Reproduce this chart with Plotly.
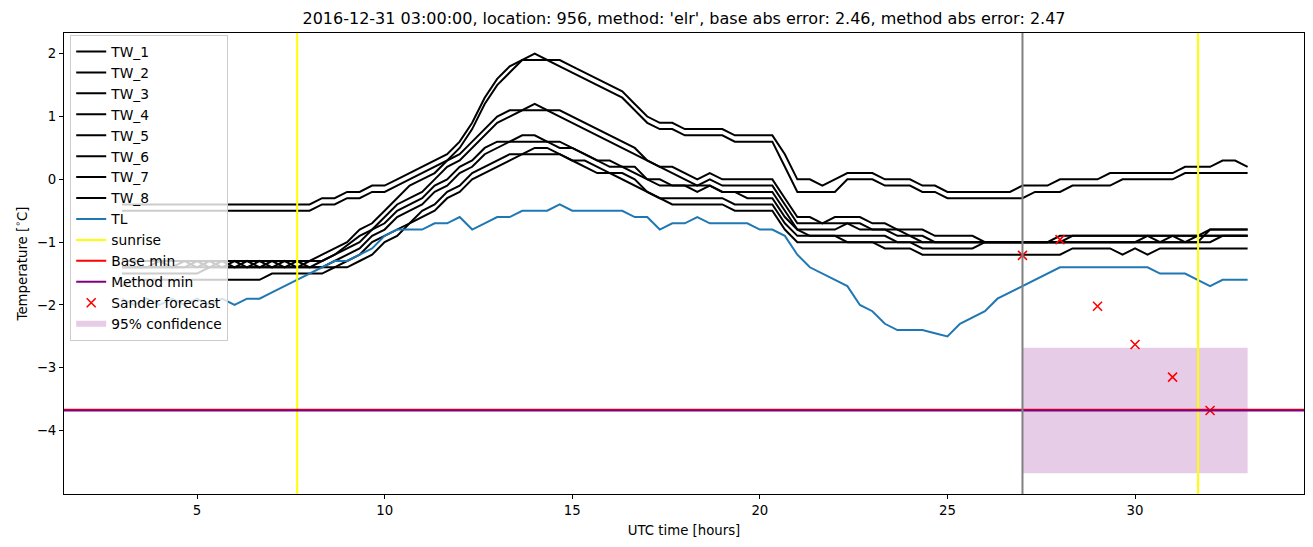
import numpy as np
import plotly.graph_objects as go

# time axis: 20-minute samples from 03:00 to 33:00 UTC
hours = np.round(3 + np.arange(91) / 3.0, 4)

TW_1 = [-0.4, -0.4, -0.4, -0.4, -0.4, -0.4, -0.4, -0.4, -0.4, -0.4, -0.4, -0.4, -0.4, -0.4, -0.4,
        -0.4, -0.3, -0.3, -0.2, -0.2, -0.1, -0.1, 0.0, 0.1, 0.2, 0.3, 0.4, 0.6, 0.9, 1.3,
        1.6, 1.8, 1.9, 2.0, 1.9, 1.9, 1.8, 1.7, 1.6, 1.5, 1.4, 1.2, 1.0, 0.9, 0.9,
        0.8, 0.8, 0.8, 0.8, 0.7, 0.7, 0.7, 0.7, 0.4, 0.0, 0.0, -0.1, 0.0, 0.1, 0.1,
        0.1, 0.0, 0.0, 0.0, -0.1, -0.1, -0.2, -0.2, -0.2, -0.2, -0.2, -0.2, -0.1, -0.1, -0.1,
        0.0, 0.0, 0.0, 0.0, 0.1, 0.1, 0.1, 0.1, 0.1, 0.1, 0.2, 0.2, 0.2, 0.3, 0.3, 0.2]
TW_2 = [-0.5, -0.5, -0.5, -0.5, -0.5, -0.5, -0.5, -0.5, -0.5, -0.5, -0.5, -0.5, -0.5, -0.5, -0.5,
        -0.5, -0.4, -0.4, -0.3, -0.3, -0.2, -0.2, -0.1, 0.0, 0.1, 0.2, 0.3, 0.5, 0.8, 1.2,
        1.5, 1.7, 1.9, 1.9, 1.9, 1.8, 1.7, 1.6, 1.5, 1.4, 1.3, 1.1, 0.9, 0.8, 0.8,
        0.7, 0.7, 0.7, 0.7, 0.6, 0.6, 0.6, 0.6, 0.2, -0.2, -0.2, -0.2, -0.2, 0.0, 0.0,
        0.0, -0.1, -0.1, -0.1, -0.2, -0.2, -0.3, -0.3, -0.3, -0.3, -0.3, -0.3, -0.3, -0.2, -0.2,
        -0.2, -0.1, -0.1, -0.1, -0.1, 0.0, 0.0, 0.0, 0.0, 0.0, 0.1, 0.1, 0.1, 0.1, 0.1, 0.1]
TW_3 = [-1.3, -1.3, -1.3, -1.3, -1.3, -1.3, -1.3, -1.3, -1.3, -1.3, -1.3, -1.3, -1.3, -1.3, -1.3,
        -1.3, -1.2, -1.1, -1.0, -0.8, -0.7, -0.5, -0.3, -0.1, 0.0, 0.1, 0.3, 0.4, 0.6, 0.8,
        1.0, 1.1, 1.1, 1.2, 1.1, 1.1, 1.0, 0.9, 0.8, 0.7, 0.6, 0.5, 0.3, 0.2, 0.2,
        0.1, 0.0, 0.1, 0.0, 0.0, 0.0, 0.0, 0.0, -0.3, -0.6, -0.6, -0.7, -0.6, -0.6, -0.6,
        -0.7, -0.7, -0.8, -0.8, -0.8, -0.9, -0.9, -0.9, -0.9, -1.0, -1.0, -1.0, -1.0, -1.0, -1.0,
        -0.9, -0.9, -0.9, -0.9, -0.9, -0.9, -0.9, -0.9, -0.9, -0.9, -0.9, -0.9, -0.8, -0.8, -0.8, -0.8]
TW_4 = [-1.4, -1.4, -1.4, -1.4, -1.4, -1.3, -1.4, -1.3, -1.4, -1.3, -1.4, -1.3, -1.4, -1.3, -1.4,
        -1.3, -1.3, -1.2, -1.05, -0.9, -0.8, -0.6, -0.4, -0.3, -0.2, 0.0, 0.2, 0.3, 0.5, 0.7,
        0.9, 1.0, 1.1, 1.1, 1.1, 1.0, 0.9, 0.8, 0.7, 0.6, 0.5, 0.4, 0.3, 0.2, 0.1,
        0.0, -0.1, 0.0, -0.1, -0.1, -0.1, -0.1, -0.1, -0.4, -0.7, -0.7, -0.7, -0.7, -0.7, -0.7,
        -0.8, -0.8, -0.8, -0.9, -0.9, -1.0, -1.0, -1.0, -1.0, -1.0, -1.0, -1.0, -1.0, -1.0, -1.0,
        -1.0, -0.9, -0.9, -0.9, -0.9, -0.9, -0.9, -0.9, -0.9, -0.9, -0.9, -0.9, -0.9, -0.9, -0.9, -0.9]
TW_5 = [-1.4, -1.4, -1.4, -1.4, -1.4, -1.4, -1.3, -1.4, -1.3, -1.4, -1.3, -1.4, -1.3, -1.4, -1.3,
        -1.4, -1.3, -1.2, -1.1, -1.0, -0.8, -0.7, -0.5, -0.4, -0.3, -0.1, 0.0, 0.2, 0.3, 0.5,
        0.6, 0.6, 0.7, 0.7, 0.6, 0.6, 0.5, 0.4, 0.3, 0.3, 0.2, 0.2, 0.0, 0.0, -0.1,
        -0.1, -0.1, -0.1, -0.2, -0.2, -0.2, -0.2, -0.2, -0.5, -0.8, -0.8, -0.8, -0.8, -0.7, -0.8,
        -0.8, -0.8, -0.9, -0.9, -1.0, -1.0, -1.0, -1.0, -1.0, -1.0, -1.0, -1.0, -1.0, -1.0, -1.0,
        -1.0, -1.0, -1.0, -1.0, -1.0, -1.0, -1.0, -1.0, -1.0, -1.0, -1.0, -1.0, -0.8, -0.8, -0.8, -0.8]
TW_6 = [-1.4, -1.4, -1.4, -1.3, -1.4, -1.4, -1.4, -1.4, -1.4, -1.4, -1.4, -1.4, -1.4, -1.4, -1.4,
        -1.4, -1.4, -1.3, -1.2, -1.1, -0.9, -0.8, -0.6, -0.5, -0.4, -0.2, -0.1, 0.1, 0.2, 0.4,
        0.5, 0.6, 0.6, 0.6, 0.6, 0.5, 0.5, 0.4, 0.3, 0.2, 0.2, 0.1, 0.0, -0.1, -0.1,
        -0.1, -0.2, -0.1, -0.2, -0.2, -0.3, -0.3, -0.3, -0.6, -0.8, -0.9, -0.9, -0.9, -0.9, -0.9,
        -0.9, -0.9, -1.0, -1.0, -1.0, -1.0, -1.0, -1.0, -1.0, -1.0, -1.0, -1.0, -1.0, -1.0, -1.0,
        -1.0, -1.0, -1.0, -1.0, -1.0, -1.0, -1.0, -0.9, -1.0, -0.9, -1.0, -0.9, -0.9, -0.9, -0.9, -0.9]
TW_7 = [-1.5, -1.5, -1.5, -1.5, -1.5, -1.5, -1.5, -1.4, -1.4, -1.4, -1.4, -1.4, -1.4, -1.4, -1.4,
        -1.4, -1.4, -1.4, -1.3, -1.2, -1.0, -0.9, -0.8, -0.7, -0.5, -0.4, -0.2, -0.1, 0.1, 0.2,
        0.3, 0.4, 0.4, 0.5, 0.5, 0.4, 0.3, 0.3, 0.2, 0.1, 0.1, 0.0, -0.2, -0.3, -0.3,
        -0.3, -0.3, -0.3, -0.3, -0.4, -0.4, -0.4, -0.4, -0.7, -0.9, -0.9, -0.9, -0.9, -1.0, -1.0,
        -1.0, -1.0, -1.0, -1.0, -1.1, -1.1, -1.1, -1.1, -1.1, -1.0, -1.0, -1.0, -1.0, -1.0, -1.0,
        -1.0, -1.0, -1.0, -1.0, -1.0, -1.0, -1.0, -1.0, -1.0, -1.0, -1.0, -1.0, -1.0, -0.9, -0.9, -0.9]
TW_8 = [-1.7, -1.6, -1.6, -1.6, -1.6, -1.6, -1.6, -1.6, -1.6, -1.6, -1.6, -1.6, -1.5, -1.5, -1.5,
        -1.5, -1.5, -1.4, -1.4, -1.3, -1.2, -1.0, -0.9, -0.7, -0.6, -0.5, -0.3, -0.2, 0.0, 0.1,
        0.2, 0.3, 0.4, 0.4, 0.4, 0.4, 0.3, 0.2, 0.1, 0.1, 0.0, -0.1, -0.2, -0.3, -0.4,
        -0.4, -0.4, -0.4, -0.4, -0.5, -0.5, -0.5, -0.5, -0.8, -1.0, -1.0, -1.0, -1.0, -1.0, -1.0,
        -1.0, -1.1, -1.1, -1.1, -1.2, -1.2, -1.2, -1.2, -1.2, -1.2, -1.2, -1.2, -1.2, -1.2, -1.2,
        -1.2, -1.1, -1.1, -1.1, -1.1, -1.2, -1.1, -1.2, -1.1, -1.1, -1.1, -1.1, -1.1, -1.1, -1.1, -1.1]
TL = [-1.9, -2.0, -1.9, -2.0, -1.9, -2.0, -1.9, -2.0, -1.9, -2.0, -1.9, -1.9, -1.8, -1.7, -1.6,
      -1.5, -1.4, -1.3, -1.3, -1.2, -1.1, -0.9, -0.8, -0.8, -0.8, -0.7, -0.7, -0.6, -0.8, -0.7,
      -0.6, -0.6, -0.5, -0.5, -0.5, -0.4, -0.5, -0.5, -0.5, -0.5, -0.5, -0.6, -0.6, -0.8, -0.7,
      -0.7, -0.6, -0.7, -0.7, -0.7, -0.7, -0.8, -0.8, -0.9, -1.2, -1.4, -1.5, -1.6, -1.7, -2.0,
      -2.1, -2.3, -2.4, -2.4, -2.4, -2.45, -2.5, -2.3, -2.2, -2.1, -1.9, -1.8, -1.7, -1.6, -1.5,
      -1.4, -1.4, -1.4, -1.4, -1.4, -1.4, -1.4, -1.4, -1.5, -1.5, -1.5, -1.6, -1.7, -1.6, -1.6, -1.6]

tw_series = [TW_1, TW_2, TW_3, TW_4, TW_5, TW_6, TW_7, TW_8]
tw_names = ["TW_1", "TW_2", "TW_3", "TW_4", "TW_5", "TW_6", "TW_7", "TW_8"]

sunrise_hours = [7.67, 31.68]
forecast_time = 27.0
base_min = -3.67
method_min = -3.68

sander_hours = [27, 28, 29, 30, 31, 32]
sander_values = [-1.21, -0.96, -2.02, -2.63, -3.15, -3.68]

conf_hours = [27.0, 33.0]
conf_low = -4.68
conf_high = -2.68

title = ("2016-12-31 03:00:00, location: 956, method: 'elr', "
         "base abs error: 2.46, method abs error: 2.47")

FONT = "DejaVu Sans"
FS = 13.3
fig = go.Figure()

rank = 1
for name, vals in zip(tw_names, tw_series):
    fig.add_trace(go.Scatter(x=hours, y=vals, mode="lines", name=name,
                             line=dict(color="black", width=2), legendrank=rank))
    rank += 1

fig.add_trace(go.Scatter(x=hours, y=TL, mode="lines", name="TL",
                         line=dict(color="#1f77b4", width=2), legendrank=9))

# confidence band
fig.add_trace(go.Scatter(
    x=[conf_hours[0], conf_hours[1], conf_hours[1], conf_hours[0], conf_hours[0]],
    y=[conf_high, conf_high, conf_low, conf_low, conf_high],
    mode="none", fill="toself", fillcolor="rgba(128,0,128,0.2)",
    name="95% confidence", legendrank=14))

fig.add_trace(go.Scatter(x=sander_hours, y=sander_values, mode="markers",
                         name="Sander forecast", legendrank=13,
                         marker=dict(symbol="x-thin", size=9, color="red",
                                     line=dict(color="red", width=1.6))))

shapes = []
for i, s in enumerate(sunrise_hours):
    shapes.append(dict(type="line", xref="x", yref="paper", x0=s, x1=s, y0=0, y1=1,
                       line=dict(color="yellow", width=2), layer="above",
                       name="sunrise", showlegend=(i == 0), legendrank=10))
shapes.append(dict(type="line", xref="paper", yref="y", x0=0, x1=1, y0=base_min, y1=base_min,
                   line=dict(color="red", width=2), layer="above",
                   name="Base min", showlegend=True, legendrank=11))
shapes.append(dict(type="line", xref="paper", yref="y", x0=0, x1=1, y0=method_min, y1=method_min,
                   line=dict(color="purple", width=2), layer="above",
                   name="Method min", showlegend=True, legendrank=12))
shapes.append(dict(type="line", xref="x", yref="paper", x0=forecast_time, x1=forecast_time,
                   y0=0, y1=1, line=dict(color="grey", width=2), layer="above"))

fig.update_layout(
    width=1313, height=547,
    margin=dict(l=64, r=9, t=33, b=53),
    paper_bgcolor="white", plot_bgcolor="white",
    font=dict(family=FONT, size=FS, color="black"),
    title=dict(text=title, x=0.5, xref="paper", xanchor="center",
               y=1 - 18 / 547, yref="container", yanchor="middle",
               font=dict(family=FONT, size=16, color="black")),
    shapes=shapes,
    showlegend=True,
    legend=dict(x=0.005, y=0.9957, xanchor="left", yanchor="top",
                bgcolor="rgba(255,255,255,0.8)", bordercolor="#cccccc", borderwidth=1,
                font=dict(family=FONT, size=13.8, color="black"), tracegroupgap=0),
)
fig.update_xaxes(range=[1.455, 34.503], tickvals=[5, 10, 15, 20, 25, 30],
                 showgrid=False, zeroline=False, showline=True, mirror=True,
                 linecolor="black", linewidth=1, ticks="outside", ticklen=4,
                 tickcolor="black", tickfont=dict(family=FONT, size=FS, color="black"),
                 title=dict(text="UTC time [hours]", standoff=8,
                            font=dict(family=FONT, size=FS, color="black")))
fig.update_yaxes(range=[-5.01, 2.33], tickvals=[-4, -3, -2, -1, 0, 1, 2],
                 showgrid=False, zeroline=False, showline=True, mirror=True,
                 linecolor="black", linewidth=1, ticks="outside", ticklen=4,
                 tickcolor="black", tickfont=dict(family=FONT, size=FS, color="black"),
                 title=dict(text="Temperature [<sup>∘</sup>C]", standoff=6,
                            font=dict(family=FONT, size=FS, color="black")))

fig.write_html("out.html")
